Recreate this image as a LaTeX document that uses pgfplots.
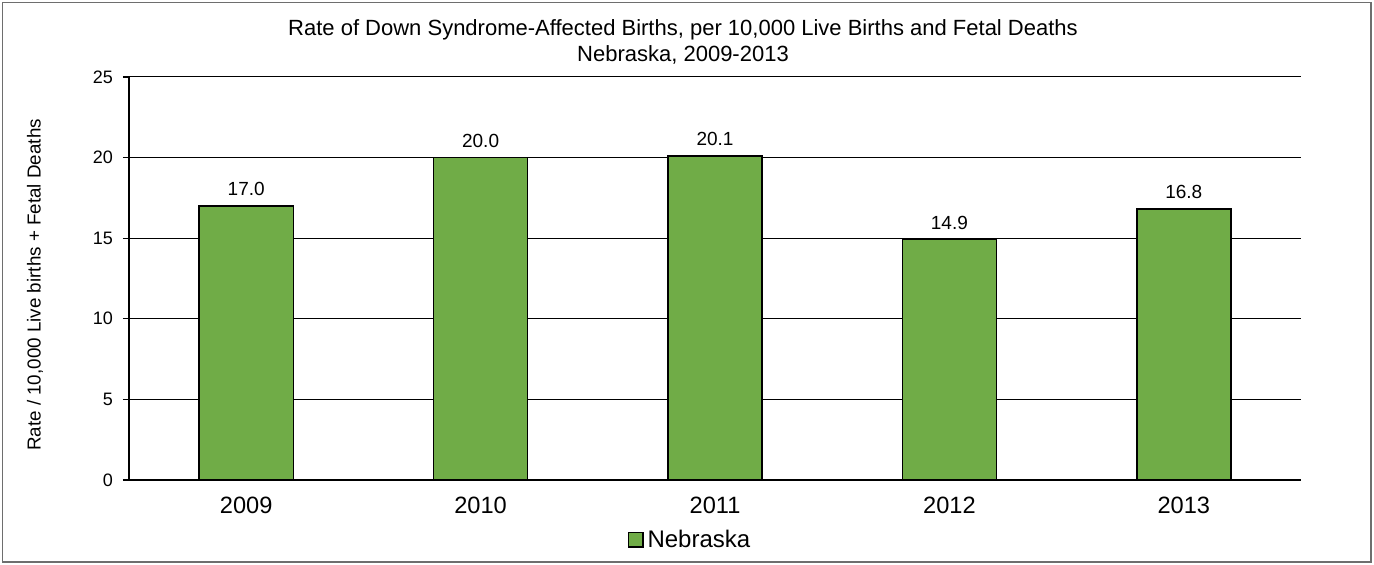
\documentclass[border=0pt]{standalone}
\usepackage{pgfplots}
\pgfplotsset{compat=1.18}
\usepackage{fontspec}
\setmainfont{Liberation Sans}
\definecolor{bargreen}{RGB}{112,172,71}
\definecolor{framegray}{RGB}{110,110,110}
\begin{document}
\begin{tikzpicture}[x=1pt,y=1pt]
\useasboundingbox (-64.5,-42.5) rectangle (622.5,240);
\draw[framegray, line width=0.8pt] (-63.3,-41) rectangle (621,238.8);
\begin{axis}[
  at={(0,0)}, anchor=south west,
  scale only axis, width=586pt, height=201.5pt,
  xmin=-0.5, xmax=4.5, ymin=0, ymax=25,
  ytick={0,5,...,25},
  ymajorgrids, grid style={black, line width=0.5pt},
  axis x line*=bottom, axis y line*=left,
  axis line style={black, line width=0.6pt},
  xtick={0,1,2,3,4},
  xticklabels={2009,2010,2011,2012,2013},
  x tick style={draw=none},
  extra x ticks={-0.5,0.5,1.5,2.5,3.5,4.5},
  extra x tick labels={},
  extra x tick style={tick style={draw=black, line width=0.6pt}, major tick length=3.5pt, tick align=outside, grid=none},
  y tick style={black, line width=0.6pt},
  major tick length=3pt, tick align=outside,
  xticklabel style={font=\fontsize{11.8}{14}\selectfont, yshift=-2pt},
  yticklabel style={font=\fontsize{9}{11}\selectfont, xshift=-1.5pt},
  /pgf/number format/assume math mode=true,
  ybar, bar width=47pt,
  nodes near coords, nodes near coords align={vertical},
  point meta=explicit symbolic,
  every node near coord/.append style={font=\fontsize{9.5}{11}\selectfont, yshift=1.5pt},
  legend style={at={(281pt,-30pt)}, anchor=center, draw=none, fill=none,
    font=\fontsize{12}{14}\selectfont, inner sep=0pt},
  legend image code/.code={\draw[#1, draw=black, line width=0.7pt] (0pt,-3.6pt) rectangle (7.2pt,3.6pt);},
  legend cell align=left,
  clip=false,
]
\addplot[fill=bargreen, draw=black, line width=0.7pt] coordinates {
  (0,17.0) [17.0]
  (1,20.0) [20.0]
  (2,20.1) [20.1]
  (3,14.9) [14.9]
  (4,16.8) [16.8]
};
\addlegendentry{Nebraska}
\end{axis}
\node[font=\fontsize{11}{13}\selectfont] at (277,225.3) {Rate of Down Syndrome-Affected Births, per 10,000 Live Births and Fetal Deaths};
\node[font=\fontsize{11}{13}\selectfont] at (277,212.3) {Nebraska, 2009-2013};
\node[rotate=90, font=\fontsize{9.4}{11}\selectfont] at (-47,97.5) {Rate / 10,000 Live births + Fetal Deaths};
\end{tikzpicture}
\end{document}
